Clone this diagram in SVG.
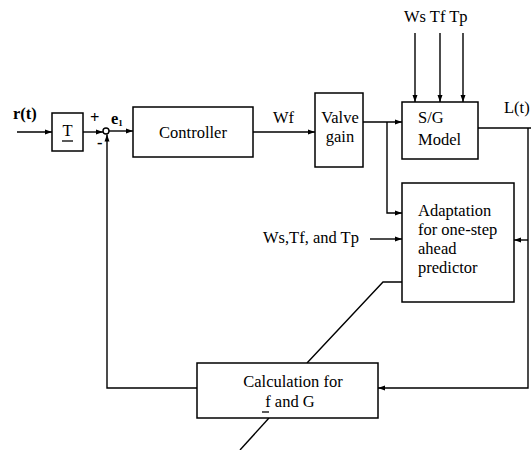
<svg xmlns="http://www.w3.org/2000/svg" width="531" height="450" viewBox="0 0 531 450">
<defs>
<marker id="ah" markerUnits="userSpaceOnUse" markerWidth="8" markerHeight="6" refX="7" refY="3" orient="auto">
<path d="M0,0.5 L7,3 L0,5.5 Z" fill="#000"/>
</marker>
</defs>
<style>
rect.box{fill:#fff;stroke:#000;stroke-width:1.5}
.c{fill:none;stroke:#000;stroke-width:1.4}
.a{marker-end:url(#ah)}
text{font-family:"Liberation Serif","Times New Roman",serif;font-size:16.5px;fill:#000}
.b{font-weight:bold}
</style>
<rect width="531" height="450" fill="#fff"/>
<g id="connectors">
<line class="c a" x1="17" y1="132" x2="52" y2="132"/>
<line class="c a" x1="83" y1="132" x2="103" y2="132"/>
<line class="c a" x1="109" y1="131" x2="133" y2="131"/>
<line class="c a" x1="253" y1="132" x2="315" y2="132"/>
<line class="c a" x1="363" y1="122" x2="402" y2="122"/>
<polyline class="c a" points="387,122 387,213 402,213"/>
<line class="c a" x1="415" y1="33" x2="415" y2="102"/>
<line class="c a" x1="440" y1="33" x2="440" y2="102"/>
<line class="c a" x1="463" y1="33" x2="463" y2="102"/>
<line class="c" x1="478" y1="128" x2="531" y2="128"/>
<polyline class="c a" points="528,128 528,388 378,388"/>
<line class="c a" x1="528" y1="240" x2="514" y2="240"/>
<line class="c a" x1="370" y1="239" x2="402" y2="239"/>
<polyline class="c a" points="197,388 107,388 107,134.5"/>
<polyline class="c" points="402,282 383,282 307,363"/>
<line class="c" x1="269" y1="418" x2="240" y2="450"/>
<circle cx="106" cy="131" r="3" fill="#fff" stroke="#000" stroke-width="1.4"/>
</g>
<g id="input">
<text class="b" x="13" y="119" font-size="15">r(t)</text>
<text class="b" x="90" y="123" font-size="14">+</text>
<text class="b" x="97" y="148" font-size="15">-</text>
<text class="b" x="111" y="124" font-size="15">e<tspan font-size="9" dy="2">1</tspan></text>
</g>
<g id="T">
<rect class="box" x="52" y="113" width="31" height="38"/>
<text x="67.5" y="136" text-anchor="middle" font-size="16">T</text>
<line x1="62" y1="141" x2="73" y2="141" stroke="#000" stroke-width="1.3"/>
</g>
<g id="controller">
<rect class="box" x="133" y="107" width="120" height="50"/>
<text x="193" y="138" text-anchor="middle">Controller</text>
</g>
<text x="273" y="123">Wf</text>
<g id="valve">
<rect class="box" x="315" y="93" width="48" height="74"/>
<text x="340" y="123" text-anchor="middle">Valve</text>
<text x="340" y="142" text-anchor="middle">gain</text>
</g>
<g id="sgmodel">
<rect class="box" x="402" y="102" width="76" height="57"/>
<text x="418" y="123">S/G</text>
<text x="418" y="145">Model</text>
</g>
<text x="404" y="22">Ws Tf Tp</text>
<text x="504" y="113" font-size="16">L(t)</text>
<g id="adaptation">
<rect class="box" x="402" y="183" width="112" height="119"/>
<text x="418" y="216">Adaptation</text>
<text x="418" y="235">for one-step</text>
<text x="418" y="254">ahead</text>
<text x="418" y="273">predictor</text>
</g>
<text x="263" y="243">Ws,Tf, and Tp</text>
<g id="calculation">
<rect class="box" x="197" y="363" width="181" height="55"/>
<text x="293" y="387" text-anchor="middle">Calculation for</text>
<text x="290" y="407" text-anchor="middle">f and G</text>
<line x1="262" y1="412" x2="269" y2="412" stroke="#000" stroke-width="1.3"/>
</g>
</svg>
